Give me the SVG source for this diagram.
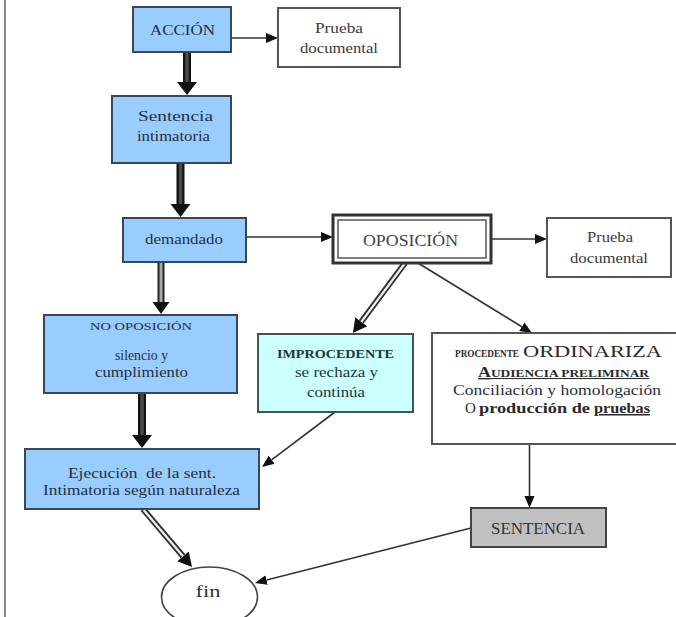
<svg xmlns="http://www.w3.org/2000/svg" width="676" height="617" viewBox="0 0 676 617">
<style>
  .blue { fill: #99ccff; stroke: #3a4656; stroke-width: 2; }
  .white { fill: #ffffff; stroke: #555555; stroke-width: 2; }
  .cyan { fill: #ccffff; stroke: #3f5555; stroke-width: 2; }
  .gray { fill: #c0c0c0; stroke: #444444; stroke-width: 2; }
  .t { font-family: "Liberation Serif", "Times New Roman", serif; font-size: 15px; fill: #26303c; text-anchor: middle; }
  .tl { font-family: "Liberation Serif", "Times New Roman", serif; font-size: 15px; fill: #2a2a2a; text-anchor: start; }
  .b { font-weight: bold; }
  .thin { fill: none; stroke: #333333; stroke-width: 1.6; }
  .boldOut { fill: none; stroke: #111111; stroke-width: 8; }
  .boldIn { fill: none; stroke: #4a4a4a; stroke-width: 3.5; }
  .dblOut { fill: none; stroke: #222222; stroke-width: 7; }
  .dblIn { fill: none; stroke: #a8a8a8; stroke-width: 3; }
  .triOut { fill: none; stroke: #333333; stroke-width: 6; }
  .triIn { fill: none; stroke: #f0f0f0; stroke-width: 2.2; }
</style>
<defs>
  <marker id="hBig" markerUnits="userSpaceOnUse" viewBox="0 -11 14 22" refX="0" refY="0" markerWidth="14" markerHeight="22" orient="auto">
    <path d="M0,-10 L13,0 L0,10 Z" fill="#111111"/>
  </marker>
  <marker id="hMed" markerUnits="userSpaceOnUse" viewBox="0 -10 13 20" refX="0" refY="0" markerWidth="13" markerHeight="20" orient="auto">
    <path d="M0,-8.5 L12,0 L0,8.5 Z" fill="#111111"/>
  </marker>
  <marker id="hMid" markerUnits="userSpaceOnUse" viewBox="0 -9 15 18" refX="0" refY="0" markerWidth="15" markerHeight="18" orient="auto">
    <path d="M0,-7.5 L14,0 L0,7.5 Z" fill="#111111"/>
  </marker>
  <marker id="hSmall" markerUnits="userSpaceOnUse" viewBox="0 -6 13 12" refX="0" refY="0" markerWidth="13" markerHeight="12" orient="auto">
    <path d="M0,-5 L12,0 L0,5 Z" fill="#111111"/>
  </marker>
</defs>

<rect x="0" y="0" width="676" height="617" fill="#ffffff"/>
<line x1="5" y1="0" x2="5" y2="617" stroke="#8c8c8c" stroke-width="2"/>

<g id="connectors">
  <!-- thin arrows -->
  <line class="thin" x1="231" y1="38" x2="266" y2="38" marker-end="url(#hSmall)"/>
  <line class="thin" x1="246" y1="237" x2="321" y2="237" marker-end="url(#hSmall)"/>
  <line class="thin" x1="491" y1="239" x2="535" y2="239" marker-end="url(#hSmall)"/>
  <line class="thin" x1="418" y1="263" x2="521.8" y2="326.7" marker-end="url(#hSmall)"/>
  <line class="thin" x1="335" y1="412" x2="271.6" y2="459.8" marker-end="url(#hSmall)"/>
  <line class="thin" x1="529.5" y1="444" x2="529.5" y2="496" marker-end="url(#hSmall)"/>
  <line class="thin" x1="471" y1="528" x2="266.6" y2="580" marker-end="url(#hSmall)"/>
  <!-- bold arrows -->
  <line class="boldOut" x1="187" y1="52" x2="187" y2="82" marker-end="url(#hBig)"/>
  <line class="boldIn" x1="187" y1="53" x2="187" y2="82"/>
  <line class="boldOut" x1="180.5" y1="163" x2="180.5" y2="204" marker-end="url(#hBig)"/>
  <line class="boldIn" x1="180.5" y1="164" x2="180.5" y2="204"/>
  <line class="boldOut" x1="142" y1="393" x2="142" y2="435" marker-end="url(#hBig)"/>
  <line class="boldIn" x1="142" y1="394" x2="142" y2="435"/>
  <!-- double arrows -->
  <line class="dblOut" x1="161" y1="262" x2="161" y2="302" marker-end="url(#hMed)"/>
  <line class="dblIn" x1="161" y1="263" x2="161" y2="302"/>
  <line class="triOut" x1="405" y1="263" x2="361.3" y2="321.8" marker-end="url(#hMid)"/>
  <line class="triIn" x1="404.4" y1="264" x2="361.3" y2="321.8"/>
  <line class="triOut" x1="143" y1="509" x2="183" y2="556.3" marker-end="url(#hMid)"/>
  <line class="triIn" x1="143.7" y1="510" x2="183" y2="556.3"/>
</g>

<g id="accion">
  <rect class="blue" x="133" y="7" width="98" height="45"/>
  <text class="t" x="182.5" y="35" textLength="65" lengthAdjust="spacingAndGlyphs">ACCIÓN</text>
</g>

<g id="prueba1">
  <rect class="white" x="278" y="8" width="122" height="59"/>
  <text class="t" x="339" y="33" textLength="48" lengthAdjust="spacingAndGlyphs" style="fill:#3a3a3a">Prueba</text>
  <text class="t" x="339" y="53" textLength="78" lengthAdjust="spacingAndGlyphs" style="fill:#3a3a3a">documental</text>
</g>

<g id="sentencia-intimatoria">
  <rect class="blue" x="112" y="96" width="119" height="67"/>
  <text class="t" x="175.5" y="121" textLength="75" lengthAdjust="spacingAndGlyphs">Sentencia</text>
  <text class="t" x="173.5" y="141" textLength="73" lengthAdjust="spacingAndGlyphs">intimatoria</text>
</g>

<g id="demandado">
  <rect class="blue" x="123" y="218" width="123" height="44"/>
  <text class="t" x="184" y="244" textLength="78" lengthAdjust="spacingAndGlyphs">demandado</text>
</g>

<g id="oposicion">
  <rect x="333" y="215" width="158" height="48" fill="#ffffff" stroke="#333333" stroke-width="3"/>
  <rect x="338" y="220" width="148" height="38" fill="none" stroke="#555555" stroke-width="1.5"/>
  <text class="t" x="410.5" y="245.5" textLength="95" lengthAdjust="spacingAndGlyphs" style="font-size:16px;fill:#444444">OPOSICIÓN</text>
</g>

<g id="prueba2">
  <rect class="white" x="547" y="218" width="124" height="59"/>
  <text class="t" x="610" y="242" textLength="46" lengthAdjust="spacingAndGlyphs" style="fill:#3a3a3a">Prueba</text>
  <text class="t" x="609" y="263" textLength="78" lengthAdjust="spacingAndGlyphs" style="fill:#3a3a3a">documental</text>
</g>

<g id="no-oposicion">
  <rect class="blue" x="44" y="315" width="193" height="78"/>
  <text class="t" x="141" y="329.5" textLength="102" lengthAdjust="spacingAndGlyphs" style="font-size:11px">NO OPOSICIÓN</text>
  <text class="t" x="141.5" y="359.5" textLength="53" lengthAdjust="spacingAndGlyphs">silencio y</text>
  <text class="t" x="141.5" y="377" textLength="93" lengthAdjust="spacingAndGlyphs">cumplimiento</text>
</g>

<g id="improcedente">
  <rect class="cyan" x="258" y="334" width="155" height="78"/>
  <text class="t b" x="335.5" y="358" textLength="117" lengthAdjust="spacingAndGlyphs" style="font-size:13px;fill:#223838">IMPROCEDENTE</text>
  <text class="t" x="336.5" y="377" textLength="83" lengthAdjust="spacingAndGlyphs" style="fill:#223838">se rechaza y</text>
  <text class="t" x="336" y="396.5" textLength="58" lengthAdjust="spacingAndGlyphs" style="fill:#223838">continúa</text>
</g>

<g id="procedente">
  <rect class="white" x="432" y="333" width="250" height="111"/>
  <text class="tl b" x="455" y="357" textLength="64" lengthAdjust="spacingAndGlyphs" style="font-size:10.5px">PROCEDENTE</text>
  <text class="tl" x="523" y="357" textLength="139" lengthAdjust="spacingAndGlyphs" style="font-size:16px">ORDINARIZA</text>
  <text class="tl b" x="478" y="377" textLength="171" lengthAdjust="spacingAndGlyphs" text-decoration="underline"><tspan style="font-size:14px">A</tspan><tspan style="font-size:10.5px">UDIENCIA PRELIMINAR</tspan></text>
  <text class="t" x="557" y="395" textLength="208" lengthAdjust="spacingAndGlyphs">Conciliación y homologación</text>
  <text class="tl" x="465" y="413" style="font-size:15px">O</text>
  <text class="tl b" x="479" y="413" textLength="111" lengthAdjust="spacingAndGlyphs">producción de</text>
  <text class="tl b" x="594" y="413" textLength="56" lengthAdjust="spacingAndGlyphs" text-decoration="underline">pruebas</text>
</g>

<g id="ejecucion">
  <rect class="blue" x="25" y="449" width="234" height="60"/>
  <text class="t" x="142" y="478" textLength="148" lengthAdjust="spacingAndGlyphs" style="white-space:pre">Ejecución  de la sent.</text>
  <text class="t" x="141.5" y="495" textLength="197" lengthAdjust="spacingAndGlyphs">Intimatoria según naturaleza</text>
</g>

<g id="sentencia">
  <rect class="gray" x="471" y="508" width="135" height="39"/>
  <text class="t" x="538" y="534" textLength="94" lengthAdjust="spacingAndGlyphs" style="font-size:16px;fill:#333333">SENTENCIA</text>
</g>

<g id="fin">
  <ellipse cx="209.5" cy="597" rx="48" ry="30" fill="#ffffff" stroke="#444444" stroke-width="1.6"/>
  <text class="t" x="208" y="597" textLength="25" lengthAdjust="spacingAndGlyphs" style="font-size:17px;fill:#333333">fin</text>
</g>
</svg>
